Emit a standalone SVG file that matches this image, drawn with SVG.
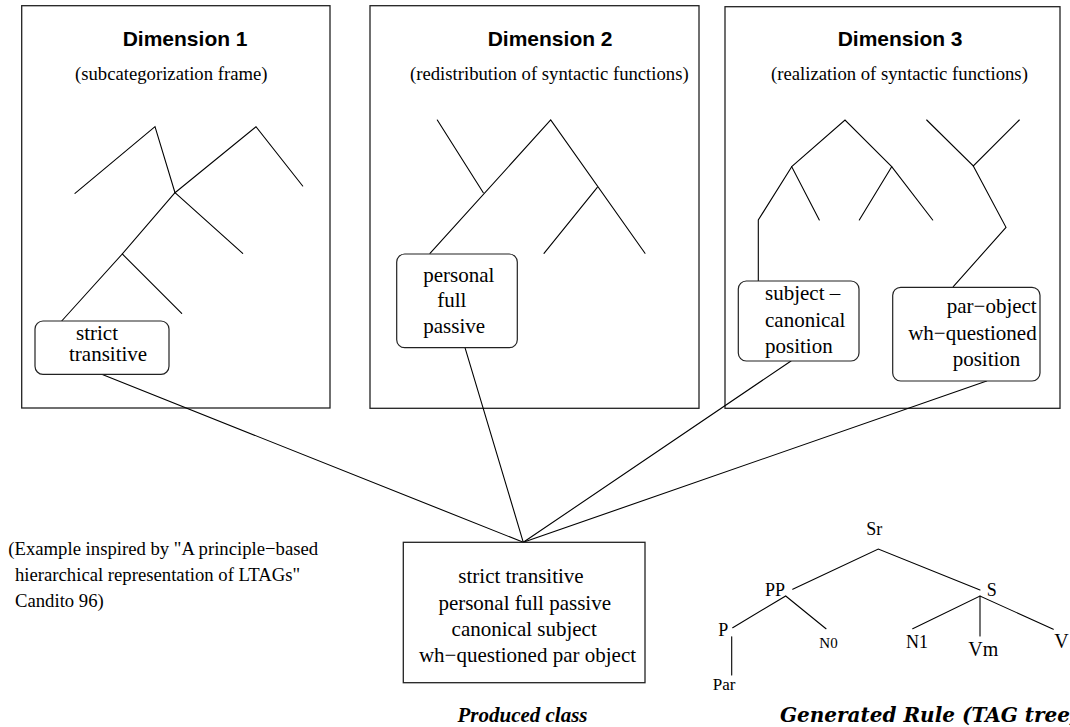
<svg xmlns="http://www.w3.org/2000/svg" width="1070" height="727" viewBox="0 0 1070 727">
<style>
.frame{fill:none;stroke:#222;stroke-width:1.3}
.node{fill:#fff;stroke:#222;stroke-width:1.2}
.ln{stroke:#000;stroke-width:1.1;fill:none;stroke-linecap:round}
.title{font-family:"Liberation Sans",Arial,sans-serif;font-weight:bold;font-size:21px;fill:#000}
.sub{font-family:"Liberation Serif","Times New Roman",serif;font-size:18.7px;fill:#000}
.t{font-family:"Liberation Serif","Times New Roman",serif;font-size:21px;fill:#000}
.cap{font-family:"Liberation Serif","Times New Roman",serif;font-size:21px;font-weight:bold;font-style:italic;fill:#000}
.cap2{font-family:"DejaVu Serif",serif;font-size:20px;font-weight:bold;font-style:italic;fill:#000}
.tr{font-family:"Liberation Serif","Times New Roman",serif;font-size:18px;fill:#000}
</style>
<rect width="1070" height="727" fill="#fff"/>

<g id="dimension1">
<rect class="frame" x="21.7" y="5.7" width="308.3" height="402.3"/>
<text class="title" x="122.7" y="45.7">Dimension 1</text>
<text class="sub" x="75" y="80">(subcategorization frame)</text>
<g class="ln">
<path d="M75,193.3 L155,126.7 L175,192.7 L256,126.7 L302.7,186"/>
<path d="M175,192.7 L242.7,253.3"/>
<path d="M175,192.7 L122.3,254 L181.7,313.3"/>
<path d="M122.3,254 L61.7,321"/>
</g>
</g>

<g id="dimension2">
<rect class="frame" x="370" y="5.7" width="329" height="402.6"/>
<text class="title" x="487.7" y="45.7">Dimension 2</text>
<text class="sub" x="410" y="80">(redistribution of syntactic functions)</text>
<g class="ln">
<path d="M437.3,120 L483.3,192.7"/>
<path d="M430,253.3 L550.7,120 L645,253.3"/>
<path d="M597.3,187.3 L544,253.3"/>
</g>
</g>

<g id="dimension3">
<rect class="frame" x="725" y="6.7" width="335" height="401.6"/>
<text class="title" x="837.7" y="45.7">Dimension 3</text>
<text class="sub" x="771" y="80">(realization of syntactic functions)</text>
<g class="ln">
<path d="M819.3,220 L791.7,166.7 L845,120 L891.7,166.7 L932.7,220"/>
<path d="M891.7,166.7 L859.3,220"/>
<path d="M791.7,166.7 L758.3,220 L758.3,281"/>
<path d="M926.7,120 L973.3,166 L1019.3,120"/>
<path d="M973.3,166 L1006,227.3 L953.3,286.7"/>
</g>
</g>

<g id="connectors" class="ln">
<path d="M101.7,374.3 L523.3,542.3"/>
<path d="M465,347.7 L523.3,542.3"/>
<path d="M791,361 L523.3,542.3"/>
<path d="M986.7,381 L523.3,542.3"/>
</g>

<g id="node-strict-transitive">
<rect class="node" x="35" y="321" width="134" height="53.3" rx="8"/>
<text class="t" x="76" y="340">strict</text>
<text class="t" x="69" y="361">transitive</text>
</g>

<g id="node-personal-full-passive">
<rect class="node" x="396.7" y="254" width="120.6" height="93.7" rx="8"/>
<text class="t" x="423.3" y="281.7">personal</text>
<text class="t" x="437.3" y="306.7">full</text>
<text class="t" x="423.3" y="333.3">passive</text>
</g>

<g id="node-subject-canonical">
<rect class="node" x="738.3" y="281" width="120.7" height="80" rx="8"/>
<text class="t" x="765" y="300">subject –</text>
<text class="t" x="765" y="327">canonical</text>
<text class="t" x="765" y="353">position</text>
</g>

<g id="node-par-object">
<rect class="node" x="892.7" y="287.3" width="147.3" height="93.7" rx="8"/>
<text class="t" x="1036.7" y="313.3" text-anchor="end">par−object</text>
<text class="t" x="1036.7" y="340" text-anchor="end">wh−questioned</text>
<text class="t" x="952.7" y="366">position</text>
</g>

<g id="produced-class">
<rect class="frame" x="403.3" y="542.3" width="241.7" height="140.4"/>
<text class="t" x="521" y="582.7" text-anchor="middle">strict transitive</text>
<text class="t" x="524.7" y="609.5" text-anchor="middle">personal full passive</text>
<text class="t" x="524.2" y="636" text-anchor="middle">canonical subject</text>
<text class="t" x="527.5" y="662" text-anchor="middle">wh−questioned par object</text>
<text class="cap" x="522.5" y="722" text-anchor="middle">Produced class</text>
</g>

<g id="note">
<text class="sub" x="8.3" y="555">(Example inspired by "A principle−based</text>
<text class="sub" x="15" y="580.7">hierarchical representation of LTAGs"</text>
<text class="sub" x="15" y="607.3">Candito 96)</text>
</g>

<g id="tag-tree">
<g class="ln">
<path d="M792.7,589.3 L878.3,549 L980,590"/>
<path d="M732.7,627.7 L785.7,596 L826,628.7"/>
<path d="M731.7,636.7 L731.7,675"/>
<path d="M912.7,628.7 L980,596 L1053.3,629.3"/>
<path d="M980,596 L980,636"/>
</g>
<text class="tr" x="874.3" y="535" text-anchor="middle">Sr</text>
<text class="tr" x="765" y="596">PP</text>
<text class="tr" x="986.7" y="596">S</text>
<text class="tr" x="718.3" y="636">P</text>
<text class="tr" x="819.3" y="648.3" style="font-size:15px">N0</text>
<text class="tr" x="712.7" y="690" style="font-size:17px">Par</text>
<text class="tr" x="906" y="648.3">N1</text>
<text class="tr" x="968.3" y="655.7" style="font-size:20px">Vm</text>
<text class="tr" x="1054.3" y="648.3" style="font-size:20px">V</text>
<text class="cap2" x="780" y="722">Generated Rule (TAG tree)</text>
</g>
</svg>
